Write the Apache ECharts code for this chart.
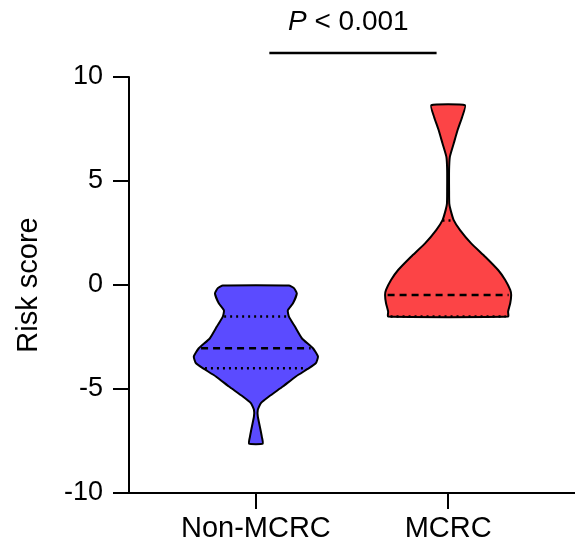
<!DOCTYPE html>
<html>
<head>
<meta charset="utf-8">
<script src="https://cdn.jsdelivr.net/npm/echarts@6/dist/echarts.min.js"></script>
<style>
  html, body { margin: 0; padding: 0; background: #fff; }
  #chart { width: 575px; height: 548px; }
</style>
</head>
<body>
<div id="chart"></div>
<script>
// groups and their positions on the x axis
const groups = ['Non-MCRC', 'MCRC'];
const groupPos = [1, 2];
const colors = ['#5b4bff', '#fc4446'];

// violin outlines: risk score level and half-width (x-axis units)
const nonY = [-0.03, -0.15, -0.40, -0.88, -1.23, -1.52, -2.0, -2.56, -3.04, -3.44, -3.76, -4.0, -4.4, -4.88, -5.36, -5.68, -6.0, -6.32, -6.96, -7.3, -7.63];
const nonW = [0.172, 0.198, 0.213, 0.193, 0.166, 0.172, 0.203, 0.239, 0.297, 0.323, 0.312, 0.276, 0.208, 0.140, 0.068, 0.026, 0.010, 0.010, 0.024, 0.031, 0.036];
const mcrcY = [8.64, 8.08, 7.44, 6.80, 6.16, 5.52, 4.56, 3.92, 3.60, 3.12, 2.64, 2.0, 1.36, 0.72, 0.24, -0.24, -0.48, -0.88, -1.28, -1.52];
const mcrcW = [0.088, 0.073, 0.049, 0.029, 0.009, 0.005, 0.005, 0.006, 0.013, 0.029, 0.062, 0.120, 0.193, 0.260, 0.297, 0.323, 0.328, 0.323, 0.312, 0.312];

// quartiles [Q1, median, Q3]
const nonQ = [-4.0, -3.04, -1.52];
const mcrcQ = [-1.52, -0.48, 3.1];

// significance bar
const sigX = [1.07, 1.94];
const sigY = 11.15;
const sigText = '{i|P} < 0.001';

const violins = [
    { y: nonY, w: nonW, q: nonQ },
    { y: mcrcY, w: mcrcW, q: mcrcQ }
];

function widthAt(v, val) {
    for (let i = 0; i < v.y.length - 1; i++) {
        const a = v.y[i], b = v.y[i + 1];
        if (val <= a && val >= b) {
            const t = (a - val) / (a - b);
            return v.w[i] + t * (v.w[i + 1] - v.w[i]);
        }
    }
    return 0;
}

function renderViolin(params, api) {
    const idx = params.dataIndex;
    const v = violins[idx];
    const c = groupPos[idx];
    const pts = [];
    for (let i = 0; i < v.y.length; i++) pts.push(api.coord([c - v.w[i], v.y[i]]));
    for (let i = v.y.length - 1; i >= 0; i--) pts.push(api.coord([c + v.w[i], v.y[i]]));
    const children = [{
        type: 'polygon',
        shape: { points: pts, smooth: 0.15 },
        style: { fill: colors[idx], stroke: '#000', lineWidth: 2 }
    }];
    v.q.forEach((qv, k) => {
        const hw = widthAt(v, qv) * 0.96;
        const p1 = api.coord([c - hw, qv]);
        const p2 = api.coord([c + hw, qv]);
        children.push({
            type: 'line',
            shape: { x1: p1[0], y1: p1[1], x2: p2[0], y2: p2[1] },
            style: { stroke: '#000', lineWidth: 2.5, lineDash: k === 1 ? [7, 5] : [2, 4] }
        });
    });
    return { type: 'group', children: children };
}

const chart = echarts.init(document.getElementById('chart'));
const option = {
    animation: false,
    textStyle: { fontFamily: 'Liberation Sans, Arial, sans-serif' },
    title: {
        text: sigText,
        left: 283,
        top: 3,
        textStyle: {
            fontSize: 28, fontWeight: 'normal', color: '#000',
            rich: { i: { fontStyle: 'italic', fontSize: 28, color: '#000' } }
        }
    },
    grid: { left: 129, right: 0, top: 77, bottom: 55, containLabel: false },
    xAxis: {
        type: 'value',
        min: 0.34,
        max: 2.66,
        splitLine: { show: false },
        axisLine: { show: true, onZero: false, lineStyle: { color: '#000', width: 2 } },
        axisTick: { show: true, customValues: groupPos, length: 16, lineStyle: { color: '#000', width: 2 } },
        axisLabel: {
            customValues: groupPos,
            margin: 21,
            fontSize: 29,
            color: '#000',
            formatter: (val) => groups[groupPos.indexOf(val)] || ''
        }
    },
    yAxis: {
        type: 'value',
        min: -10,
        max: 10,
        interval: 5,
        name: 'Risk score',
        nameLocation: 'middle',
        nameGap: 86,
        nameTextStyle: { fontSize: 29, color: '#000' },
        splitLine: { show: false },
        axisLine: { show: true, onZero: false, lineStyle: { color: '#000', width: 2 } },
        axisTick: { show: true, length: 16, lineStyle: { color: '#000', width: 2 } },
        axisLabel: { margin: 26, fontSize: 27, color: '#000' }
    },
    series: [
        {
            type: 'custom',
            renderItem: renderViolin,
            data: groups.map((g, i) => [groupPos[i], 0]),
            clip: false
        },
        {
            type: 'custom',
            clip: false,
            data: [[sigX[0], sigY]],
            renderItem: (params, api) => {
                const p1 = api.coord([sigX[0], sigY]);
                const p2 = api.coord([sigX[1], sigY]);
                return {
                    type: 'line',
                    shape: { x1: p1[0], y1: p1[1], x2: p2[0], y2: p2[1] },
                    style: { stroke: '#000', lineWidth: 2.5 }
                };
            }
        }
    ]
};
chart.setOption(option);
</script>
</body>
</html>
